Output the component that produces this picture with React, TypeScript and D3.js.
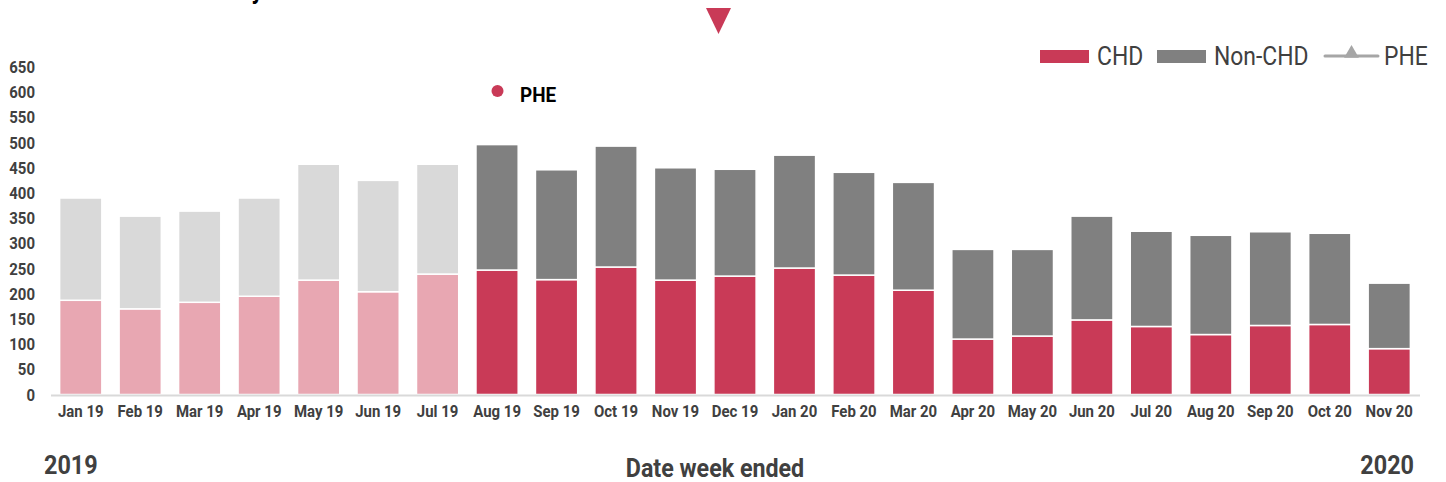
import React from "react";
import * as d3 from "d3";

const months = ["Jan 19","Feb 19","Mar 19","Apr 19","May 19","Jun 19","Jul 19","Aug 19","Sep 19","Oct 19","Nov 19","Dec 19","Jan 20","Feb 20","Mar 20","Apr 20","May 20","Jun 20","Jul 20","Aug 20","Sep 20","Oct 20","Nov 20"];
const chd = [187,170,183,195,227,204,239,247,228,253,227,235,251,237,207,110,116,148,135,119,137,139,91];
const nonChd = [203,184,181,195,230,221,218,249,218,240,223,212,224,204,214,178,172,206,189,197,186,181,130];
const baselineMonths = ["Jan 19","Feb 19","Mar 19","Apr 19","May 19","Jun 19","Jul 19"];
const yTicks = [0,50,100,150,200,250,300,350,400,450,500,550,600,650];
const legendItems = ["CHD","Non-CHD","PHE"];

const W = 1446, H = 482;
const RED = "#c93a57", RED_L = "#e8a7b2", GREY = "#808080", GREY_L = "#d9d9d9";
const FONT = "Roboto, 'Noto Sans', sans-serif";

function CText({x, y, sx = 0.88, anchor = "start", size, weight = 700, fill = "#404040", children}: any) {
  return (
    <text transform={`translate(${x},${y}) scale(${sx},1)`} textAnchor={anchor}
      fontFamily={FONT} fontSize={size} fontWeight={weight} fill={fill}>{children}</text>
  );
}

export default function App() {
  const x = d3.scaleBand<string>().domain(months).range([51, 1419]).paddingInner(0.29).paddingOuter(0.145);
  const y = d3.scaleLinear().domain([0, 650]).range([394.5, 67]);
  const stack = d3.stack<any>().keys(["chd", "non"])(months.map((m, i) => ({m, chd: chd[i], non: nonChd[i]})));
  const faded = new Set(baselineMonths);
  const tri = d3.symbol().type(d3.symbolTriangle).size(95)();

  return (
    <svg width={W} height={H} style={{position: "absolute", left: 0, top: 0, background: "#fff"}}>
      <CText x={263} y={-1} size={26} anchor="end" fill="#000">Weekly</CText>
      {/* marker triangle */}
      <path d={`M706,8 L731,8 L718.5,34 Z`} fill={RED} />
      {/* y ticks */}
      {yTicks.map(t => (
        <CText key={t} x={35} y={y(t) + 6} size={17} anchor="end">{t}</CText>
      ))}
      {/* bars */}
      {stack.map((layer, li) => layer.map((d, i) => {
        const m = months[i];
        const f = faded.has(m);
        const fill = li === 0 ? (f ? RED_L : RED) : (f ? GREY_L : GREY);
        return (
          <rect key={`${li}-${i}`} x={x(m)} width={x.bandwidth()} y={y(d[1])} height={y(d[0]) - y(d[1])}
            fill={fill} stroke="#fff" strokeWidth={1.5} />
        );
      }))}
      {/* baseline */}
      <line x1={51} x2={1420} y1={395.5} y2={395.5} stroke="#d9d9d9" strokeWidth={2} />
      {/* x labels */}
      {months.map(m => (
        <CText key={m} x={(x(m) as number) + x.bandwidth() / 2} y={417} size={17} anchor="middle">{m}</CText>
      ))}
      <CText x={44} y={474} size={26} sx={0.9}>2019</CText>
      <CText x={1414} y={474} size={26} sx={0.9} anchor="end">2020</CText>
      <CText x={715} y={477} size={25} sx={0.93} anchor="middle">Date week ended</CText>
      {/* PHE annotation */}
      <circle cx={497.5} cy={91} r={6} fill={RED} />
      <CText x={520} y={101.5} size={21} sx={0.9} fill="#000">PHE</CText>
      {/* legend */}
      <rect x={1040} y={50} width={49} height={13} fill={RED} />
      <CText x={1097} y={64.5} size={26} weight={400}>{legendItems[0]}</CText>
      <rect x={1157} y={50} width={49} height={13} fill={GREY} />
      <CText x={1214} y={64.5} size={26} weight={400}>{legendItems[1]}</CText>
      <line x1={1325} x2={1378} y1={56} y2={56} stroke="#a6a6a6" strokeWidth={3} strokeLinecap="round" />
      <path d={tri as string} transform="translate(1351.5,53.5)" fill="#a6a6a6" />
      <CText x={1384} y={64.5} size={26} weight={400}>{legendItems[2]}</CText>
    </svg>
  );
}
